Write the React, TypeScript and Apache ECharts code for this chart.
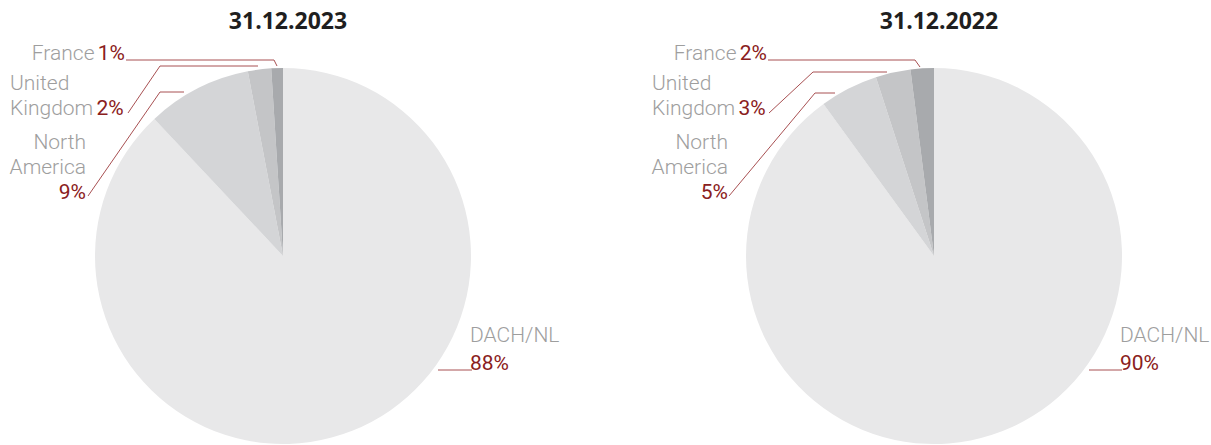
import { useEffect, useRef } from "react";
import * as echarts from "echarts";

const regions = ["DACH/NL", "North America", "United Kingdom", "France"];
const values2023 = [88, 9, 2, 1];
const values2022 = [90, 5, 3, 2];
const titles = ["31.12.2023", "31.12.2022"];
const nameLines = [["DACH/NL"], ["North", "America"], ["United", "Kingdom"], ["France"]];
const sliceColors = ["#e8e8e9", "#d4d5d7", "#c4c5c7", "#a8aaad"];

const centers: [number, number][] = [[283, 256], [934, 256]];
const radius = 188;

type L = { x: number; y: number; align: string; pts: number[][] };
const layouts: L[][] = [
  [
    { x: 470, y: 349, align: "left", pts: [[438, 370], [472, 370], [472, 370]] },
    { x: 86, y: 167, align: "right", pts: [[88, 196], [160, 92], [184, 92]] },
    { x: 10, y: 95, align: "left", pts: [[128, 113], [160, 66], [258, 66]] },
    { x: 125, y: 53, align: "right", pts: [[126, 60], [274, 60], [277, 66]] },
  ],
  [
    { x: 1120, y: 349, align: "left", pts: [[1089, 370], [1122, 370], [1122, 370]] },
    { x: 728, y: 167, align: "right", pts: [[729, 196], [815, 93], [835, 93]] },
    { x: 652, y: 95, align: "left", pts: [[769, 113], [813, 72], [887, 72]] },
    { x: 767, y: 53, align: "right", pts: [[768, 60], [915, 60], [920, 67]] },
  ],
];

function fmt(idx: number, v: number): string {
  const n = nameLines[idx];
  if (idx === 0) return `{m|${n[0]}}\n{q|${v}%}`;
  if (idx === 1) return `{n|${n[0]}}\n{n|${n[1]}}\n{p|${v}%}`;
  if (idx === 2) return `{n|${n[0]}}\n{n|${n[1]}} {p|${v}%}`;
  return `{n|${n[0]}} {p|${v}%}`;
}

const nameStyle = { fontFamily: "Roboto", fontWeight: 300, fontSize: 21, color: "#9e9e9e" };
const pctStyle = { fontFamily: "Roboto", fontWeight: 400, fontSize: 21, color: "#8a2020" };

export default function App() {
  const ref = useRef<HTMLDivElement>(null);
  useEffect(() => {
    if (!ref.current) return;
    const chart = echarts.init(ref.current, null, { renderer: "svg" });
    const all = [values2023, values2022];
    chart.setOption({
      animation: false,
      backgroundColor: "#ffffff",
      title: titles.map((t, i) => ({
        text: t,
        left: centers[i][0],
        top: 3,
        textAlign: "center",
        textStyle: { fontFamily: "Open Sans", fontWeight: "bold", fontSize: 23, color: "#1f1f1f" },
      })),
      series: all.map((vals, si) => ({
        type: "pie",
        center: centers[si],
        radius: radius,
        startAngle: 90,
        clockwise: true,
        avoidLabelOverlap: false,
        silent: true,
        itemStyle: { borderWidth: 0 },
        label: {
          show: true,
          position: "outside",
          formatter: (p: any) => fmt(p.dataIndex, p.value),
          rich: {
            n: { ...nameStyle, lineHeight: 25 },
            p: { ...pctStyle, lineHeight: 25 },
            m: { ...nameStyle, lineHeight: 28 },
            q: { ...pctStyle, lineHeight: 28 },
          },
        },
        labelLine: { show: true, smooth: false, lineStyle: { color: "#a85052", width: 1 } },
        labelLayout: (params: any) => {
          const l = layouts[si][params.dataIndex];
          return {
            x: l.x,
            y: l.y,
            align: l.align,
            verticalAlign: "middle",
            labelLinePoints: l.pts,
          };
        },
        data: regions.map((r, i) => ({
          name: r,
          value: vals[i],
          itemStyle: { color: sliceColors[i] },
        })),
      })),
    });
    return () => chart.dispose();
  }, []);
  return (
    <div
      ref={ref}
      style={{ position: "fixed", left: 0, top: 0, width: 1211, height: 445 }}
    />
  );
}
